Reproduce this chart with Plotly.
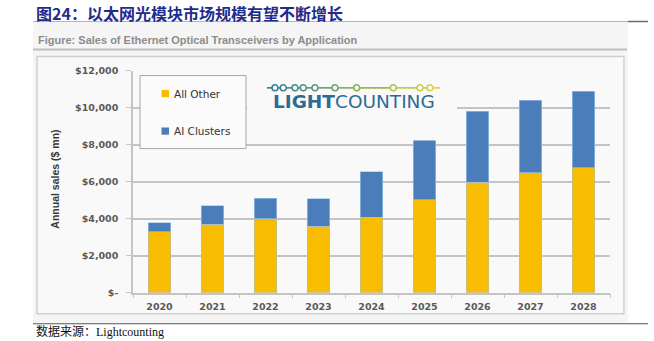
import plotly.graph_objects as go

# ---- data -------------------------------------------------------------
years = ["2020", "2021", "2022", "2023", "2024", "2025", "2026", "2027", "2028"]
all_other = [3280, 3710, 3990, 3600, 4070, 5030, 5960, 6490, 6760]
ai_clusters = [490, 990, 1110, 1470, 2470, 3420, 3840, 3910, 4120]
series_names = ["All Other", "AI Clusters"]
y_tickvals = [0, 2000, 4000, 6000, 8000, 10000, 12000]
y_ticktext = ["$-", "$2,000", "$4,000", "$6,000", "$8,000", "$10,000", "$12,000"]

W, H = 654, 341
YELLOW = "#F8BD00"
BLUE = "#4A7DBA"
GRID = "#C4C4C4"
TICK_GRAY = "#595959"

# layout positions below are given in page pixels; the page shows the
# figure slightly squeezed vertically, so map page rows back to figure rows
SY, OY = 0.967, 6.5


def px(x):
    return x / W


def py(y):
    return 1 - ((y - OY) / SY) / H


fig = go.Figure()
fig.add_trace(go.Bar(x=years, y=all_other, name=series_names[0],
                     marker=dict(color=YELLOW, line=dict(color="rgba(160,195,235,0.6)", width=0.8)),
                     showlegend=False))
fig.add_trace(go.Bar(x=years, y=ai_clusters, name=series_names[1],
                     marker=dict(color=BLUE, line=dict(color="rgba(160,195,235,0.8)", width=0.8)),
                     showlegend=False))

shapes = []
# outer panel
shapes.append(dict(type="rect", xref="paper", yref="paper", layer="below",
                   x0=px(33), x1=px(628), y0=py(323), y1=py(22),
                   fillcolor="#F5F5F5", line=dict(width=0)))
# top rule
shapes.append(dict(type="line", xref="paper", yref="paper", x0=px(33), x1=px(628),
                   y0=py(22), y1=py(22), line=dict(color="#B5B5B5", width=1.2)))
shapes.append(dict(type="line", xref="paper", yref="paper", x0=px(628), x1=px(648),
                   y0=py(22), y1=py(22), line=dict(color="#6A6A6A", width=1.5)))
# caption rule
shapes.append(dict(type="line", xref="paper", yref="paper", x0=px(33), x1=px(627),
                   y0=py(50), y1=py(50), line=dict(color="#BDBDBD", width=2)))
# inner chart box
shapes.append(dict(type="rect", xref="paper", yref="paper", layer="below",
                   x0=px(37), x1=px(624), y0=py(314), y1=py(57),
                   fillcolor="#F9F9F9", line=dict(color="#CFCFCF", width=1.5)))
# bottom rule
shapes.append(dict(type="line", xref="paper", yref="paper", x0=px(33), x1=px(648),
                   y0=py(324), y1=py(324), line=dict(color="#555555", width=1.2)))

# legend box
shapes.append(dict(type="rect", xref="paper", yref="paper", layer="above",
                   x0=px(140), x1=px(246), y0=py(149), y1=py(76),
                   fillcolor="#FBFBFB", line=dict(color="#A6A6A6", width=1)))
legend_rows = [(series_names[0], YELLOW, 94), (series_names[1], BLUE, 131.5)]
annotations = []
for name, col, yc in legend_rows:
    shapes.append(dict(type="rect", xref="paper", yref="paper", layer="above",
                       x0=px(161.5), x1=px(169), y0=py(yc + 3.6), y1=py(yc - 3.6),
                       fillcolor=col, line=dict(width=0)))
    annotations.append(dict(xref="paper", yref="paper", x=px(171.5), y=py(yc),
                            xanchor="left", yanchor="middle", showarrow=False,
                            text=name, font=dict(family="DejaVu Sans", size=10.5, color="#333333")))

# logo backdrop
shapes.append(dict(type="rect", xref="paper", yref="paper", layer="above",
                   x0=px(247), x1=px(457), y0=py(141), y1=py(75),
                   fillcolor="#F9F9F9", line=dict(width=0)))


def lerp_color(t):
    stops = [(0.0, (43, 122, 158)), (0.5, (125, 179, 86)), (1.0, (226, 212, 58))]
    for (t0, c0), (t1, c1) in zip(stops[:-1], stops[1:]):
        if t <= t1:
            f = (t - t0) / (t1 - t0)
            return "rgb(%d,%d,%d)" % tuple(round(a + (b - a) * f) for a, b in zip(c0, c1))
    return "rgb(%d,%d,%d)" % stops[-1][1]


chain_x0, chain_x1, chain_y = 267, 440, 88.3
nodes = [275, 283.3, 295, 303.3, 315, 335, 356.7, 393.3, 420, 430]
seg_pts = [chain_x0] + nodes + [chain_x1]
for a, b in zip(seg_pts[:-1], seg_pts[1:]):
    t = ((a + b) / 2 - chain_x0) / (chain_x1 - chain_x0)
    shapes.append(dict(type="line", xref="paper", yref="paper", layer="above",
                       x0=px(a), x1=px(b), y0=py(chain_y), y1=py(chain_y),
                       line=dict(color=lerp_color(t), width=1.6)))
for cx in nodes:
    t = (cx - chain_x0) / (chain_x1 - chain_x0)
    shapes.append(dict(type="circle", xref="paper", yref="paper", layer="above",
                       x0=px(cx - 3), x1=px(cx + 3), y0=py(chain_y + 3), y1=py(chain_y - 3),
                       fillcolor="#F9F9F9", line=dict(color=lerp_color(t), width=1.5)))

annotations.append(dict(xref="paper", yref="paper", x=px(354), y=py(102),
                        xanchor="center", yanchor="middle", showarrow=False,
                        text="<b>LIGHT</b>COUNTING",
                        font=dict(family="DejaVu Sans", size=18.5, color="#2C6B93")))

# titles and notes
annotations.append(dict(xref="paper", yref="paper", x=px(34), y=py(13.5),
                        xanchor="left", yanchor="middle", showarrow=False,
                        text="<b>图24：以太网光模块市场规模有望不断增长</b>",
                        font=dict(family="Noto Sans CJK SC", size=16, color="#1F2C8C")))
annotations.append(dict(xref="paper", yref="paper", x=px(36), y=py(40),
                        xanchor="left", yanchor="middle", showarrow=False,
                        text="<b>Figure: Sales of Ethernet Optical Transceivers by Application</b>",
                        font=dict(family="Liberation Sans", size=11, color="#8C8C8C")))
annotations.append(dict(xref="paper", yref="paper", x=px(55), y=py(180),
                        xanchor="center", yanchor="middle", showarrow=False, textangle=-90,
                        text="<b>Annual sales ($ mn)</b>",
                        font=dict(family="Liberation Sans", size=10.5, color="#3A3A3A")))
annotations.append(dict(xref="paper", yref="paper", x=px(34), y=py(330.5),
                        xanchor="left", yanchor="middle", showarrow=False,
                        text="数据来源：<span style='font-family:Liberation Serif'>Lightcounting</span>",
                        font=dict(family="Noto Sans CJK SC", size=12, color="#111111")))

fig.update_layout(
    width=W, height=H, autosize=False,
    margin=dict(l=0, r=0, t=0, b=0),
    paper_bgcolor="white", plot_bgcolor="rgba(0,0,0,0)",
    barmode="stack", bargap=0.58,
    shapes=shapes, annotations=annotations,
    xaxis=dict(domain=[px(133), px(610)], type="category",
               showline=True, linecolor=GRID, linewidth=1.5,
               ticks="outside", tickson="boundaries", ticklen=4, tickcolor=GRID, tickwidth=1,
               showgrid=False, ticklabelstandoff=4,
               tickfont=dict(family="DejaVu Sans", size=9.5, color=TICK_GRAY, weight="bold")),
    yaxis=dict(domain=[py(293), py(71)], range=[0, 12000],
               tickvals=y_tickvals, ticktext=y_ticktext,
               showline=True, linecolor=GRID, linewidth=1.5,
               ticks="outside", ticklen=5, tickcolor=GRID, tickwidth=1,
               showgrid=True, gridcolor=GRID, gridwidth=1.5, zeroline=False,
               ticklabelstandoff=6,
               tickfont=dict(family="DejaVu Sans", size=9.5, color=TICK_GRAY, weight="bold")),
)

fig.write_html("out.html")
